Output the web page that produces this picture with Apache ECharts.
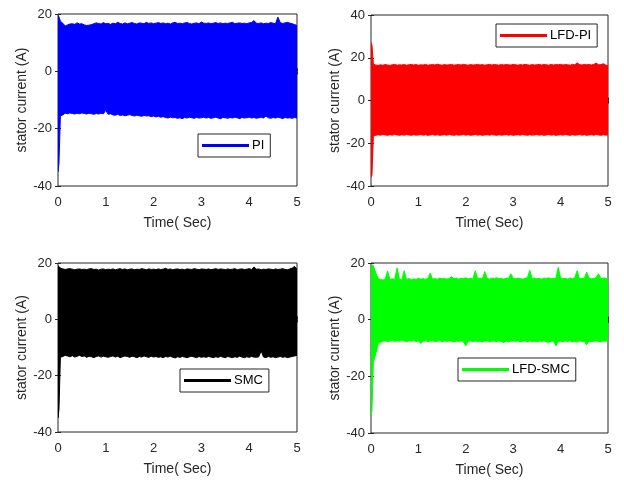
<!DOCTYPE html>
<html><head><meta charset="utf-8">
<script src="https://cdn.jsdelivr.net/npm/echarts@6/dist/echarts.min.js"></script>
<style>html,body{margin:0;padding:0;background:#fff}#c{width:624px;height:485px}</style>
</head><body><div id="c"></div>
<script>
// Time samples (s)
const time = [0, 0.02,
 0.05,0.10,0.15,0.20,0.25,0.30,0.35,0.40,0.45,0.50,
 0.55,0.60,0.65,0.70,0.75,0.80,0.85,0.90,0.95,1.00,
 1.05,1.10,1.15,1.20,1.25,1.30,1.35,1.40,1.45,1.50,
 1.55,1.60,1.65,1.70,1.75,1.80,1.85,1.90,1.95,2.00,
 2.05,2.10,2.15,2.20,2.25,2.30,2.35,2.40,2.45,2.50,
 2.55,2.60,2.65,2.70,2.75,2.80,2.85,2.90,2.95,3.00,
 3.05,3.10,3.15,3.20,3.25,3.30,3.35,3.40,3.45,3.50,
 3.55,3.60,3.65,3.70,3.75,3.80,3.85,3.90,3.95,4.00,
 4.05,4.10,4.15,4.20,4.25,4.30,4.35,4.40,4.45,4.50,
 4.55,4.60,4.65,4.70,4.75,4.80,4.85,4.90,4.95,5.00];

// PI: upper / lower envelope of the stator current (A)
const piUpper = [19.5, 19,
 17.5,16.8,15.8,16.2,16.5,16.6,16.4,16.9,16.5,16.6,
 16.2,16.0,16.1,16.3,16.6,16.9,16.7,16.5,17.0,16.6,
 16.7,16.4,16.8,16.6,17.1,16.7,16.5,16.9,16.6,16.8,
 17.0,16.7,16.5,16.9,16.8,16.6,17.1,16.7,16.9,16.6,
 16.8,17.0,16.7,16.9,16.6,16.8,16.5,16.9,17.1,16.7,
 16.8,16.6,16.9,17.0,16.7,16.5,16.8,16.9,16.6,17.2,
 16.8,16.7,16.9,16.6,16.8,17.0,16.7,16.9,16.6,16.8,
 16.7,16.9,17.1,16.6,16.8,16.9,16.7,16.8,16.6,16.9,
 17.0,17.7,16.8,16.7,16.9,16.6,16.8,16.7,17.0,16.8,
 16.6,18.9,17.0,16.7,16.9,17.1,16.8,16.6,16.3,16.0];
const piLower = [-35, -32,
 -15.6,-15.2,-14.6,-14.8,-14.5,-14.7,-14.9,-14.6,-14.8,-14.5,
 -14.7,-14.9,-14.6,-14.8,-15.0,-14.7,-14.9,-14.6,-14.8,-13.6,
 -15.0,-14.8,-15.2,-15.3,-15.0,-15.4,-15.2,-15.5,-15.3,-15.1,
 -15.4,-15.6,-15.3,-15.5,-15.7,-15.4,-15.6,-15.5,-15.8,-15.6,
 -15.9,-15.7,-16.0,-15.8,-16.1,-16.3,-16.0,-16.2,-16.1,-16.4,
 -16.2,-16.5,-16.1,-16.3,-16.0,-16.2,-16.4,-16.1,-16.3,-16.2,
 -16.0,-16.3,-16.1,-16.4,-16.2,-16.0,-16.3,-16.5,-16.1,-16.2,
 -16.4,-16.1,-16.3,-16.0,-16.2,-16.5,-16.1,-16.3,-16.2,-16.0,
 -16.3,-16.1,-16.4,-16.2,-16.0,-16.3,-15.6,-16.2,-16.4,-16.1,
 -16.3,-16.0,-16.2,-16.5,-16.1,-16.3,-16.2,-16.4,-16.1,-16.3];

// LFD-PI
const lfdPiUpper = [27, 26,
 17.0,16.6,16.4,16.7,16.5,16.8,16.6,16.4,16.7,16.9,
 16.5,16.7,16.6,16.8,16.5,16.7,16.9,16.6,16.8,16.5,
 16.7,16.6,16.9,16.5,16.7,16.8,16.6,17.0,16.7,16.5,
 16.8,16.6,16.7,16.9,16.5,16.7,16.8,16.6,16.9,16.7,
 16.5,16.8,16.6,16.7,16.9,16.6,16.8,16.5,16.7,16.9,
 16.6,16.8,16.7,16.5,16.9,16.6,16.8,16.7,16.6,16.9,
 16.7,16.5,16.8,16.6,16.9,16.7,16.5,16.8,16.6,16.7,
 16.9,16.6,16.8,16.7,16.5,16.9,16.6,16.8,16.7,16.9,
 16.6,16.8,16.7,16.5,16.9,16.7,17.6,16.8,16.6,16.9,
 16.7,16.8,16.6,16.9,17.5,16.7,16.8,17.2,16.6,16.3];
const lfdPiLower = [-35.7, -35,
 -16.8,-16.3,-16.0,-16.2,-15.9,-16.1,-16.3,-16.0,-16.2,-15.8,
 -16.1,-16.3,-16.0,-16.2,-15.9,-16.1,-16.3,-16.0,-16.2,-16.1,
 -15.9,-16.2,-16.0,-16.3,-16.1,-15.9,-16.2,-16.0,-16.3,-16.1,
 -16.0,-16.2,-15.9,-16.1,-16.3,-16.0,-16.2,-16.1,-15.9,-16.2,
 -16.0,-16.3,-16.1,-15.9,-16.2,-16.0,-16.3,-16.1,-16.0,-16.2,
 -15.9,-16.1,-16.3,-16.0,-16.2,-16.1,-15.9,-16.2,-16.0,-16.3,
 -16.1,-16.0,-16.2,-15.9,-16.1,-16.3,-16.0,-16.2,-16.1,-15.9,
 -16.2,-16.0,-16.3,-16.1,-15.9,-16.2,-16.0,-16.3,-16.1,-16.0,
 -16.2,-15.9,-16.1,-16.3,-16.0,-16.2,-16.1,-15.9,-16.2,-16.0,
 -16.3,-16.1,-16.0,-16.2,-15.9,-16.1,-16.3,-16.0,-16.2,-16.1];

// SMC
const smcUpper = [19, 18.8,
 18.2,17.9,17.7,17.9,18.0,17.8,17.6,17.8,17.9,17.7,
 17.8,17.6,17.9,18.0,17.7,17.8,17.5,17.8,17.9,17.6,
 17.8,17.7,17.9,17.6,17.8,18.0,17.7,17.9,17.6,17.8,
 17.9,17.6,17.8,17.7,18.0,17.8,17.6,17.9,17.7,17.8,
 17.6,17.9,17.7,17.8,18.1,17.7,17.9,17.6,17.8,17.9,
 17.7,17.8,17.6,17.9,17.8,17.7,18.0,17.8,17.6,17.9,
 17.8,17.7,17.9,17.6,17.8,18.0,17.7,17.9,17.8,17.6,
 17.9,17.7,17.8,18.0,17.6,17.8,17.9,17.7,17.8,18.0,
 17.7,18.6,17.8,17.9,17.6,17.8,17.7,17.9,17.8,17.6,
 17.9,17.7,17.8,18.0,17.7,17.6,17.9,18.2,18.8,17.8];
const smcLower = [-35, -32,
 -13.5,-13.2,-12.8,-13.0,-13.3,-12.9,-13.4,-13.1,-12.8,-13.2,
 -13.0,-13.5,-13.1,-13.3,-13.6,-13.2,-13.0,-13.4,-13.1,-13.3,
 -13.5,-13.2,-13.0,-13.4,-13.1,-13.6,-13.3,-13.0,-13.2,-13.5,
 -13.1,-13.3,-13.6,-13.2,-13.4,-13.0,-13.3,-13.5,-13.1,-13.4,
 -13.2,-13.5,-13.3,-13.6,-13.2,-13.4,-13.1,-13.5,-13.7,-13.3,
 -13.5,-13.2,-13.4,-13.6,-13.3,-13.1,-13.4,-13.6,-13.2,-13.5,
 -13.3,-13.5,-13.2,-13.4,-13.6,-13.3,-13.5,-13.2,-13.4,-13.6,
 -13.2,-13.4,-13.6,-13.3,-13.5,-13.1,-13.4,-13.6,-13.3,-13.5,
 -13.2,-13.4,-13.5,-13.3,-11.2,-13.4,-13.6,-13.2,-13.5,-13.3,
 -13.6,-13.4,-13.2,-13.5,-13.3,-13.6,-13.4,-13.2,-13.0,-12.8];

// LFD-SMC
const lfdSmcUpper = [19.5, 19.5,
 19.0,16.5,14.5,14.2,14.0,14.3,17.2,14.1,14.4,14.2,
 18.2,14.3,14.0,17.3,14.2,14.5,14.1,14.4,14.2,14.6,
 14.3,14.5,14.2,14.6,16.4,14.3,14.5,14.2,14.7,14.4,
 14.6,14.3,14.5,15.2,14.4,14.7,14.3,14.6,14.5,14.8,
 14.4,14.6,14.3,17.3,14.5,14.7,14.4,17.0,14.6,14.3,
 14.7,14.5,14.8,14.4,14.6,14.3,14.7,14.5,16.2,14.6,
 14.4,14.7,14.5,14.3,14.6,14.8,17.4,14.5,14.7,14.4,
 14.6,14.3,14.7,14.5,14.8,14.4,14.6,14.5,18.5,14.7,
 14.4,14.6,14.3,14.7,14.5,14.8,17.3,14.4,14.6,14.5,
 16.8,14.7,14.4,14.6,14.8,16.2,14.5,14.7,14.6,14.3];
const lfdSmcLower = [-34, -32,
 -15.0,-12.0,-8.6,-8.0,-7.6,-7.4,-7.8,-7.5,-7.3,-7.7,
 -7.4,-7.6,-7.2,-7.5,-7.8,-7.4,-7.6,-7.3,-7.7,-7.5,
 -8.4,-7.6,-7.3,-7.8,-7.5,-7.4,-7.7,-7.6,-7.3,-7.8,
 -7.5,-7.7,-7.4,-7.6,-7.9,-7.5,-7.7,-7.4,-7.8,-9.2,
 -7.6,-7.4,-7.8,-7.5,-7.7,-7.6,-7.9,-7.5,-7.4,-7.8,
 -7.6,-7.5,-7.8,-7.4,-7.7,-8.1,-7.5,-7.8,-7.6,-7.4,
 -7.7,-7.5,-7.8,-7.6,-7.4,-7.9,-7.5,-7.7,-7.6,-7.8,
 -7.5,-7.7,-7.4,-7.8,-8.0,-7.6,-7.5,-9.2,-7.7,-7.6,
 -7.8,-7.5,-7.7,-7.4,-7.9,-7.6,-7.8,-7.5,-7.7,-7.6,
 -8.8,-7.5,-7.8,-7.6,-7.4,-7.7,-7.9,-7.5,-7.6,-7.3];

const panels = [
  {name:'PI', color:'#0000ff', upper:piUpper, lower:piLower, ymin:-40, ymax:20,
   grid:{left:58, top:14, width:239, height:172}, legend:{left:198, top:134}},
  {name:'LFD-PI', color:'#ff0000', upper:lfdPiUpper, lower:lfdPiLower, ymin:-40, ymax:40,
   grid:{left:371, top:15, width:237, height:171}, legend:{left:496, top:24}},
  {name:'SMC', color:'#000000', upper:smcUpper, lower:smcLower, ymin:-40, ymax:20,
   grid:{left:58, top:263, width:239, height:169}, legend:{left:180, top:369}},
  {name:'LFD-SMC', color:'#00ff00', upper:lfdSmcUpper, lower:lfdSmcLower, ymin:-40, ymax:20,
   grid:{left:371, top:263, width:237, height:170}, legend:{left:458, top:358}}
];

const FONT = 'Liberation Sans, Arial, Helvetica, sans-serif';
const AX = '#262626';
const grids = [], xAxes = [], yAxes = [], series = [], legends = [];
panels.forEach((p, i) => {
  grids.push(Object.assign({show:true, borderColor:AX, borderWidth:1, backgroundColor:'#fff'}, p.grid));
  const common = {axisLine:{show:false}, splitLine:{show:false},
    axisTick:{inside:true, length:3, lineStyle:{color:AX}}};
  xAxes.push(Object.assign({type:'value', gridIndex:i, min:0, max:5, interval:1, position:'bottom',
    name:'Time( Sec)', nameLocation:'middle', nameGap:30,
    nameTextStyle:{fontFamily:FONT, fontSize:14, color:AX},
    axisLabel:{fontFamily:FONT, fontSize:13, color:AX, margin:10}}, common));
  xAxes.push(Object.assign({type:'value', gridIndex:i, min:0, max:5, interval:1, position:'top',
    axisLabel:{show:false}}, common));
  yAxes.push(Object.assign({type:'value', gridIndex:i, min:p.ymin, max:p.ymax, interval:20, position:'left',
    name:'stator current (A)', nameLocation:'middle', nameGap:29,
    nameTextStyle:{fontFamily:FONT, fontSize:14, color:AX},
    axisLabel:{fontFamily:FONT, fontSize:13, color:AX, margin:6}}, common));
  yAxes.push(Object.assign({type:'value', gridIndex:i, min:p.ymin, max:p.ymax, interval:20, position:'right',
    axisLabel:{show:false}}, common));
  // band between lower and upper envelope, each vertex placed via the axes
  const rows = time.map((t, k) => [t, p.lower[k], p.upper[k]]);
  series.push({type:'custom', name:p.name, xAxisIndex:2*i, yAxisIndex:2*i,
    coordinateSystem:'cartesian2d', animation:false, clip:true,
    encode:{x:0, y:[1, 2]}, itemStyle:{color:p.color},
    data: rows,
    renderItem: (params, api) => {
      if (params.dataIndex !== 0) return null;
      const top = rows.map(r => api.coord([r[0], r[2]]));
      const bot = rows.map(r => api.coord([r[0], r[1]])).reverse();
      return {type:'polygon', shape:{points: top.concat(bot)},
        style:{fill:p.color, stroke:p.color, lineWidth:1}};
    }});
  legends.push({data:[p.name], left:p.legend.left, top:p.legend.top,
    orient:'horizontal', backgroundColor:'#fff', borderColor:AX, borderWidth:1,
    padding:[4,6,4,4], itemWidth:47, itemHeight:3, icon:'rect', itemGap:4,
    selectedMode:false, textStyle:{fontFamily:FONT, fontSize:13, lineHeight:15, color:'#000', padding:[0,0,0,-2]}});
});

const chart = echarts.init(document.getElementById('c'), null, {renderer:'canvas'});
chart.setOption({animation:false, backgroundColor:'#fff', grid:grids, xAxis:xAxes, yAxis:yAxes,
  series:series, legend:legends});
</script></body></html>
